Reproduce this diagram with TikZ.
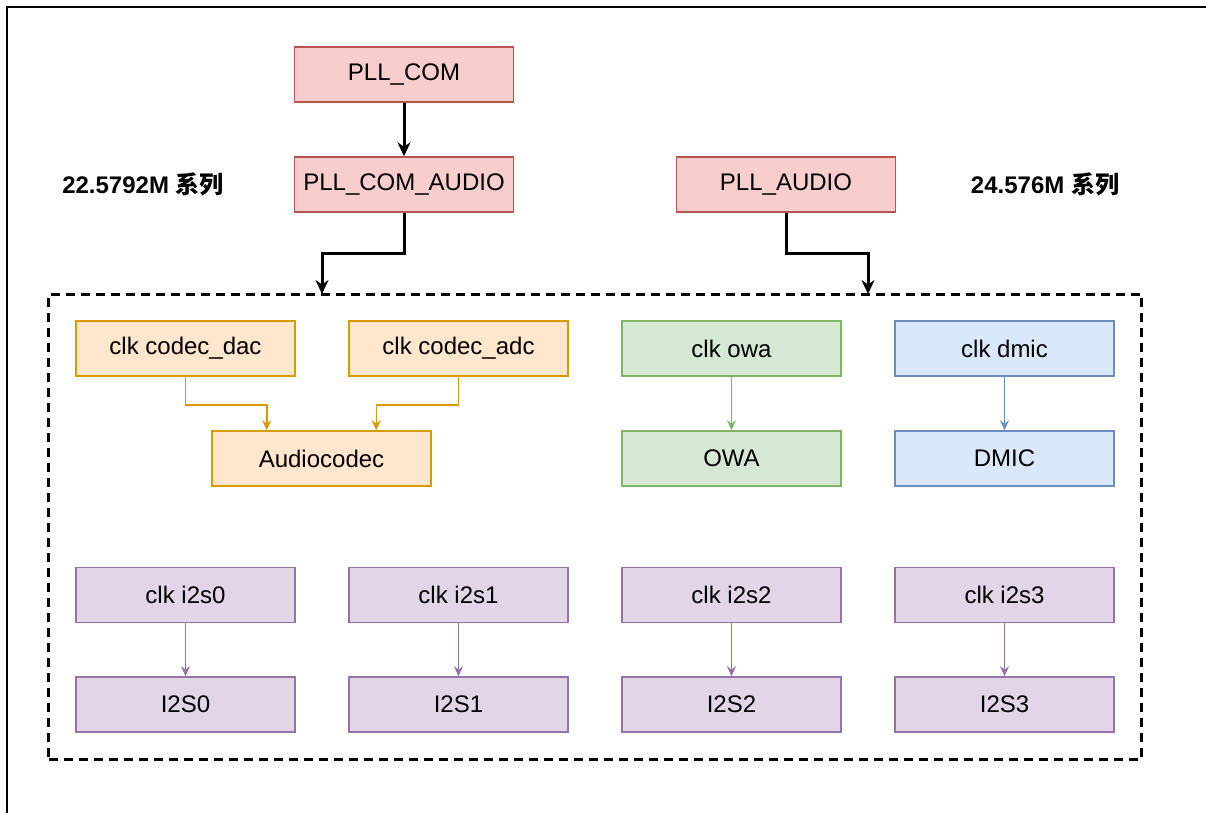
\documentclass[tikz,border=0pt]{standalone}
\usepackage{fontspec}
\setmainfont{Liberation Sans}
\newfontfamily\cjk{Noto Sans CJK SC}
\usetikzlibrary{arrows.meta}
\definecolor{redfill}{HTML}{F8CECC}\definecolor{redline}{HTML}{B85450}
\definecolor{orangefill}{HTML}{FFE6CC}\definecolor{orangeline}{HTML}{D79B00}
\definecolor{greenfill}{HTML}{D5E8D4}\definecolor{greenline}{HTML}{82B366}
\definecolor{bluefill}{HTML}{DAE8FC}\definecolor{blueline}{HTML}{6C8EBF}
\definecolor{purplefill}{HTML}{E1D5E7}\definecolor{purpleline}{HTML}{9673A6}
\begin{document}
\begin{tikzpicture}[x=1pt,y=-1pt]
        		\tikzstyle{block}=[rectangle,line width=1.5pt,minimum width=219pt,minimum height=55pt,inner sep=0pt,font=\fontsize{24}{28}\selectfont]
        		\tikzstyle{pll}=[block,draw=redline,fill=redfill]
        		\tikzstyle{codec}=[block,draw=orangeline,fill=orangefill]
        		\tikzstyle{owa}=[block,draw=greenline,fill=greenfill]
        		\tikzstyle{dmic}=[block,draw=blueline,fill=bluefill]
        		\tikzstyle{i2s}=[block,draw=purpleline,fill=purplefill]
        		\tikzstyle{series}=[font=\fontsize{24}{28}\selectfont\bfseries]
        		\tikzstyle{group}=[rectangle,draw,line width=3pt,dash pattern=on 9pt off 6pt,minimum width=1093pt,minimum height=465pt,inner sep=0pt]
        		\tikzstyle{edge}=[draw, line width=3pt, -{Stealth[length=14pt,width=13pt]}]
        		\tikzstyle{subedge}=[draw, line width=1.5pt, -{Stealth[length=10pt,width=9pt]}]
        		\useasboundingbox (0,0) rectangle (1206,812);
        		\draw[line width=1.5pt] (7,7) rectangle (1220,830);
       			\begin{scope}
			        \node [pll] (pllcom) at (404,74.5) {PLL\_COM};
			        \node [pll] (pllcomaudio) at (404,184.5) {PLL\_COM\_AUDIO};
			        \node [pll] (pllaudio) at (786,184.5) {PLL\_AUDIO};
			        \node [series] (lbl1) at (143,184.5) {22.5792M {\cjk 系列}};
			        \node [series] (lbl2) at (1045,184.5) {24.576M {\cjk 系列}};
			        \node [group] (grp) at (595,526.5) {};
			        \coordinate (inl) at (322,294);
			        \coordinate (inr) at (868,294);
			        \path[edge] (pllcom) edge (pllcomaudio);
			        \path[edge] (pllcomaudio.south) -- ++(0,41) -| (inl);
			        \path[edge] (pllaudio.south) -- ++(0,41) -| (inr);
		        \end{scope}
       			\begin{scope}
			        \node [codec] (clkdac) at (185.5,348.5) {clk codec\_dac};
			        \node [codec] (clkadc) at (458.5,348.5) {clk codec\_adc};
			        \node [codec] (audiocodec) at (321.5,458.5) {Audiocodec};
			        \node [owa] (clkowa) at (731.5,348.5) {clk owa};
			        \node [owa] (owa) at (731.5,458.5) {OWA};
			        \node [dmic] (clkdmic) at (1004.5,348.5) {clk dmic};
			        \node [dmic] (dmic) at (1004.5,458.5) {DMIC};
			        \path[subedge,orangeline] (clkdac.south) |- ++(0,28) -| ([xshift=-54.75pt]audiocodec.north);
			        \path[subedge,orangeline] (clkadc.south) |- ++(0,28) -| ([xshift=54.75pt]audiocodec.north);
			        \path[subedge,greenline] (clkowa) edge (owa);
			        \path[subedge,blueline] (clkdmic) edge (dmic);
		        \end{scope}
       			\begin{scope}
			        \foreach \i/\x in {0/185.5,1/458.5,2/731.5,3/1004.5} {
			        	\node [i2s] (clki2s\i) at (\x,595) {clk i2s\i};
			        	\node [i2s] (i2s\i) at (\x,704.5) {I2S\i};
			        	\path[subedge,purpleline] (clki2s\i) edge (i2s\i);
			        }
		        \end{scope}
	        \end{tikzpicture}
\end{document}
